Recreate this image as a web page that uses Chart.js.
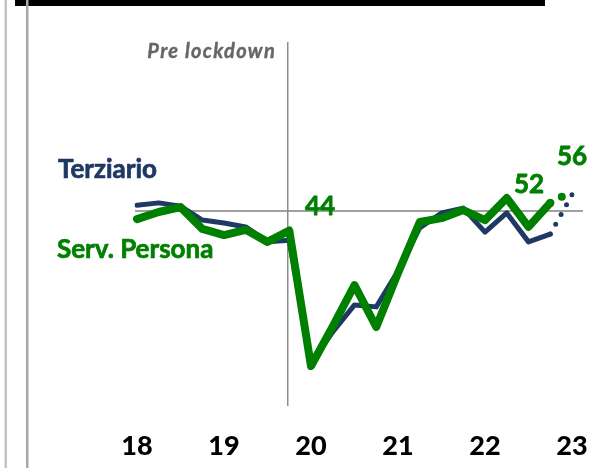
<!DOCTYPE html>
<html><head><meta charset="utf-8">
<script src="https://cdn.jsdelivr.net/npm/chart.js@4.4.1/dist/chart.umd.min.js"></script>
<style>html,body{margin:0;padding:0;background:#fff;} #wrap{position:relative;width:595px;height:468px;}</style>
</head><body><div id="wrap"><canvas id="c"></canvas></div>
<script>
// quarterly categories, 2018 Q1 .. 2023 Q1 (last one = forecast)
const quarters = ['I-18','II-18','III-18','IV-18','I-19','II-19','III-19','IV-19','I-20','II-20','III-20','IV-20','I-21','II-21','III-21','IV-21','I-22','II-22','III-22','IV-22','I-23'];
const yearTicks = ['18','19','20','21','22','23'];
const terziario   = [51.8, 52.5, 51.5, 47.2, 46.3, 45.1, 40.5, 41.0, 3.0, 12.8, 21.1, 20.5, 31.5, 44.8, 49.4, 50.9, 43.5, 49.4, 40.5, 42.9];
const servPersona = [47.5, 49.7, 51.2, 44.5, 42.6, 44.2, 40.5, 44.0, 2.3, 14.5, 27.2, 14.3, 30.9, 46.6, 47.8, 50.3, 47.2, 54.0, 45.1, 52.5];
const terziarioForecast = 55;
const servPersonaForecast = 56;
const preLockdownIndex = 7;
const threshold = 50;

const NAVY = '#1f3864', GREEN = '#008000';

function forecastSeries(series, fc){
  const arr = quarters.map(() => null);
  arr[series.length - 1] = series[series.length - 1];
  arr[series.length] = fc;
  return arr;
}

function boldText(ctx, txt, x, y, w){
  ctx.fillText(txt, x, y);
  ctx.lineWidth = w; ctx.strokeStyle = ctx.fillStyle; ctx.lineJoin = 'round';
  ctx.strokeText(txt, x, y);
}

const decor = {
  id: 'decor',
  beforeDatasetsDraw(chart){
    const {ctx, scales:{x, y}} = chart;
    ctx.save();
    ctx.fillStyle = '#000'; ctx.fillRect(15, 0, 530, 6);
    ctx.fillStyle = '#c4c4c4'; ctx.fillRect(4.5, 0, 2.5, 468);
    ctx.fillStyle = '#a8a8a8'; ctx.fillRect(26, 0, 2.5, 468);
    const y50 = y.getPixelForValue(threshold);
    ctx.strokeStyle = '#a0a0a0'; ctx.lineWidth = 2;
    ctx.beginPath(); ctx.moveTo(x.left - 2, y50); ctx.lineTo(x.right + 11, y50); ctx.stroke();
    const xv = x.getPixelForValue(preLockdownIndex) - 1.5;
    ctx.strokeStyle = '#8c8c8c'; ctx.lineWidth = 1.5;
    ctx.beginPath(); ctx.moveTo(xv, y.getPixelForValue(102)); ctx.lineTo(xv, y.getPixelForValue(-10)); ctx.stroke();
    ctx.restore();
  },
  afterDatasetsDraw(chart){
    const ctx = chart.ctx;
    ctx.save();
    ctx.textBaseline = 'alphabetic';
    ctx.font = 'italic bold 20px Lato';
    ctx.fillStyle = '#666666';
    ctx.textAlign = 'right';
    try { ctx.letterSpacing = '1.3px'; } catch(e) {}
    boldText(ctx, 'Pre lockdown', 276, 58, 0.4);
    try { ctx.letterSpacing = '0px'; } catch(e) {}
    ctx.textAlign = 'left';
    ctx.font = 'bold 26px Lato';
    ctx.fillStyle = NAVY; boldText(ctx, 'Terziario', 58, 178, 0.7);
    ctx.fillStyle = GREEN; boldText(ctx, 'Serv. Persona', 57, 258, 0.7);
    ctx.font = 'bold 26px Lato';
    boldText(ctx, '44', 305, 215, 0.8);
    boldText(ctx, '52', 514, 193, 0.8);
    boldText(ctx, '56', 557, 165, 0.8);
    ctx.restore();
  }
};

new Chart(document.getElementById('c'), {
  type: 'line',
  data: {
    labels: quarters,
    datasets: [
      { label: 'Serv. Persona', data: servPersona, borderColor: GREEN, borderWidth: 8, pointRadius: 0, tension: 0, borderJoinStyle: 'round', borderCapStyle: 'round' },
      { label: 'Serv. Persona prev.', data: forecastSeries(servPersona, servPersonaForecast), borderColor: GREEN, borderWidth: 8, pointRadius: 0, borderDash: [0, 13], borderCapStyle: 'round', spanGaps: false },
      { label: 'Terziario', data: terziario, borderColor: NAVY, borderWidth: 5, pointRadius: 0, tension: 0, borderJoinStyle: 'round', borderCapStyle: 'round' },
      { label: 'Terziario prev.', data: forecastSeries(terziario, terziarioForecast), borderColor: NAVY, borderWidth: 5, pointRadius: 0, borderDash: [0, 11.2], borderCapStyle: 'round', spanGaps: false }
    ]
  },
  options: {
    responsive: true, maintainAspectRatio: false, animation: false,
    devicePixelRatio: 1,
    layout: { padding: { left: 137, right: 23, top: 35.5, bottom: 0 } },
    plugins: { legend: { display: false }, tooltip: { enabled: false } },
    scales: {
      x: {
        offset: false,
        grid: { display: false, drawTicks: false },
        border: { display: false },
        afterFit(scale){ scale.height = 55.5; scale.paddingLeft = 0; scale.paddingRight = 0; },
        ticks: {
          autoSkip: false, maxRotation: 0, padding: 18, color: '#000',
          font: { family: 'Lato', weight: '900', size: 27 },
          callback(v, i){ return i % 4 === 0 ? yearTicks[i / 4] : ''; }
        }
      },
      y: { display: false, min: -12, max: 104 }
    }
  },
  plugins: [decor]
});
</script>
</body></html>
